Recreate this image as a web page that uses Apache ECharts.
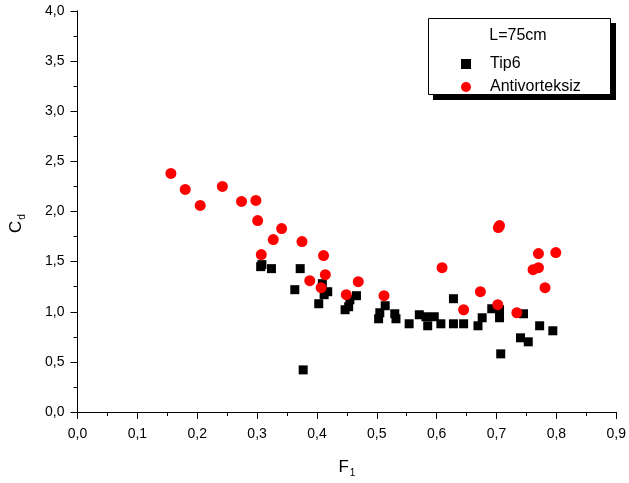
<!DOCTYPE html>
<html>
<head>
<meta charset="utf-8">
<script src="https://cdn.jsdelivr.net/npm/echarts@6/dist/echarts.min.js"></script>
<style>
  html, body { margin: 0; padding: 0; background: #fff; }
  #chart { width: 629px; height: 483px; }
</style>
</head>
<body>
<div id="chart"></div>
<script>
// Drag coefficient C_d against Froude number F_1, L = 75 cm
const seriesNames = ['Tip6', 'Antivorteksiz'];
const legendTitle = 'L=75cm';

// Tip6 measurements: F_1 values and matching C_d values
const tip6F = [0.306, 0.308, 0.324, 0.372, 0.363, 0.377, 0.409, 0.403, 0.412, 0.418,
  0.447, 0.453, 0.455, 0.466, 0.505, 0.503, 0.514, 0.530, 0.532, 0.554,
  0.571, 0.582, 0.585, 0.596, 0.607, 0.628, 0.628, 0.645, 0.669, 0.676,
  0.692, 0.705, 0.705, 0.707, 0.740, 0.745, 0.753, 0.772, 0.794];
const tip6Cd = [1.45, 1.47, 1.43, 1.43, 1.22, 0.42, 1.28, 1.08, 1.17, 1.20,
  1.02, 1.05, 1.12, 1.16, 0.99, 0.93, 1.06, 0.98, 0.93, 0.88,
  0.97, 0.95, 0.86, 0.95, 0.88, 1.13, 0.88, 0.88, 0.86, 0.94,
  1.03, 1.02, 0.94, 0.58, 0.74, 0.98, 0.70, 0.86, 0.81];

// Antivorteksiz measurements
const antiF = [0.156, 0.180, 0.205, 0.242, 0.274, 0.298, 0.301, 0.307, 0.327, 0.341,
  0.375, 0.388, 0.407, 0.411, 0.414, 0.449, 0.469, 0.512, 0.609, 0.645,
  0.673, 0.702, 0.703, 0.705, 0.734, 0.761, 0.770, 0.770, 0.781, 0.799];
const antiCd = [2.38, 2.22, 2.06, 2.25, 2.10, 2.11, 1.91, 1.57, 1.72, 1.83,
  1.70, 1.31, 1.24, 1.56, 1.37, 1.17, 1.30, 1.16, 1.44, 1.02,
  1.20, 1.07, 1.84, 1.86, 0.99, 1.42, 1.44, 1.58, 1.24, 1.59];

// Axis ranges and tick spacing
const xRange = [0, 0.9], xStep = 0.1;
const yRange = [0, 4], yStep = 0.5;

const pair = (xs, ys) => xs.map((x, i) => [x, ys[i]]);
const comma = v => v.toFixed(1).replace('.', ',');
const FONT = '"Liberation Sans", Arial, sans-serif';

const chart = echarts.init(document.getElementById('chart'), null, { renderer: 'canvas' });

const axisLine = { show: true, lineStyle: { color: '#000', width: 1 } };

chart.setOption({
  animation: false,
  backgroundColor: '#fff',
  grid: { left: 74, right: 9, top: 11, bottom: 70, containLabel: false },
  xAxis: [{
    type: 'value', min: xRange[0], max: xRange[1], interval: xStep,
    name: '{m|F}{s|1}', nameLocation: 'middle', nameGap: 44,
    nameTextStyle: {
      rich: {
        m: { fontFamily: FONT, fontSize: 17, color: '#000' },
        s: { fontFamily: FONT, fontSize: 10, color: '#000', padding: [12, 0, 0, 1] }
      }
    },
    axisLine: axisLine,
    axisTick: { show: true, inside: false, length: 7, lineStyle: { color: '#000' } },
    minorTick: { show: true, splitNumber: 2, length: 4, lineStyle: { color: '#000' } },
    splitLine: { show: false },
    axisLabel: { formatter: comma, fontFamily: FONT, fontSize: 14, color: '#000', margin: 15 }
  }, {
    type: 'value', position: 'top', min: xRange[0], max: xRange[1], interval: xStep,
    axisLine: axisLine,
    axisTick: { show: true, inside: true, length: 2, lineStyle: { color: '#000' } },
    axisLabel: { show: false }, splitLine: { show: false }
  }],
  yAxis: [{
    type: 'value', min: yRange[0], max: yRange[1], interval: yStep,
    name: '{m|C}{s|d}', nameLocation: 'middle', nameGap: 50,
    nameTextStyle: {
      padding: [0, 24, 0, 0],
      rich: {
        m: { fontFamily: FONT, fontSize: 17, color: '#000' },
        s: { fontFamily: FONT, fontSize: 10, color: '#000', padding: [12, 0, 0, 1] }
      }
    },
    axisLine: axisLine,
    axisTick: { show: true, inside: false, length: 7, lineStyle: { color: '#000' } },
    minorTick: { show: true, splitNumber: 2, length: 4, lineStyle: { color: '#000' } },
    splitLine: { show: false },
    axisLabel: { formatter: comma, fontFamily: FONT, fontSize: 14, color: '#000', margin: 13 }
  }, {
    type: 'value', position: 'right', min: yRange[0], max: yRange[1], interval: yStep,
    axisLine: axisLine,
    axisTick: { show: true, inside: true, length: 2, lineStyle: { color: '#000' } },
    axisLabel: { show: false }, splitLine: { show: false }
  }],
  legend: {
    orient: 'vertical', left: 456, top: 51, itemGap: 7,
    itemWidth: 10, itemHeight: 10,
    data: [
      { name: seriesNames[0], icon: 'rect' },
      { name: seriesNames[1], icon: 'circle' }
    ],
    textStyle: { fontFamily: FONT, fontSize: 16, color: '#000', lineHeight: 16, padding: [0, 0, 0, 14] },
    z: 10
  },
  graphic: [
    { type: 'rect', shape: { x: 433, y: 23, width: 183, height: 77 }, style: { fill: '#000' }, z: 5 },
    { type: 'rect', shape: { x: 428.5, y: 18.5, width: 182, height: 76 },
      style: { fill: '#fff', stroke: '#000', lineWidth: 1 }, z: 6 },
    { type: 'text', x: 518, y: 36, z: 7,
      style: { text: legendTitle, fontFamily: FONT, fontSize: 16, fill: '#000', align: 'center', verticalAlign: 'middle' } }
  ],
  series: [{
    name: seriesNames[0], type: 'scatter', symbol: 'rect', symbolSize: 9,
    itemStyle: { color: '#000', opacity: 1 },
    data: pair(tip6F, tip6Cd)
  }, {
    name: seriesNames[1], type: 'scatter', symbol: 'circle', symbolSize: 11,
    itemStyle: { color: '#ff0000', opacity: 1 },
    data: pair(antiF, antiCd)
  }]
});
</script>
</body>
</html>
